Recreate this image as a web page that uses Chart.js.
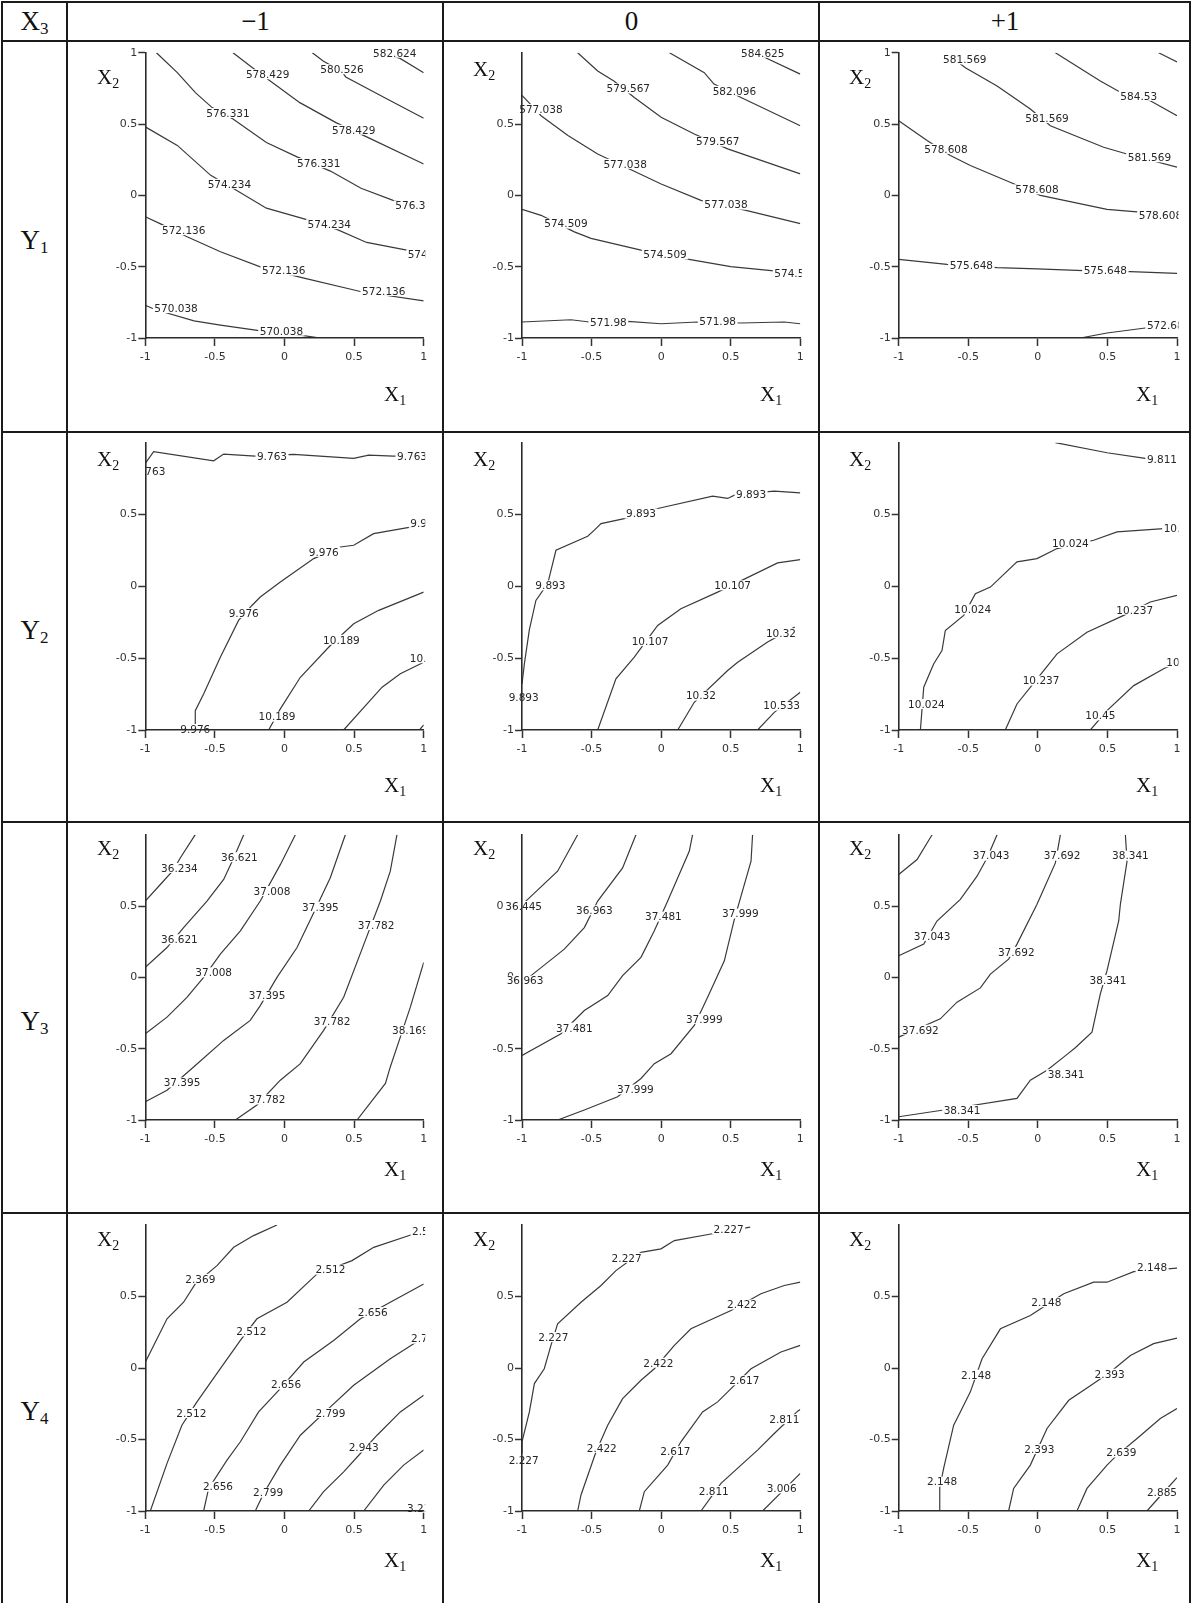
<!DOCTYPE html>
<html><head><meta charset="utf-8">
<script src="https://cdn.jsdelivr.net/npm/chart.js@4.4.0/dist/chart.umd.min.js"></script>
<style>
body{margin:0;background:#fff;}
#page{position:relative;width:1191px;height:1603px;overflow:hidden;background:#fff;font-family:"Liberation Serif","Times New Roman",serif;color:#111;}
.hl{position:absolute;background:#1b1b1b;height:2px;}
.vl{position:absolute;background:#1b1b1b;width:2px;}
.hdr{position:absolute;display:flex;align-items:center;justify-content:center;font-size:27px;line-height:27px;}
.hdr .s{font-size:17px;position:relative;top:7px;}
.ax{position:absolute;font-size:21px;line-height:21px;white-space:nowrap;}
.ax .s{font-size:14px;position:relative;top:4px;}
canvas{position:absolute;}
</style></head><body><div id="page"></div>
<script>
// ---------- header / axis texts ----------
const x3Levels = ['\u22121', '0', '+1'];
const responseIdx = ['1', '2', '3', '4'];
const axisTicks = [-1, -0.5, 0, 0.5, 1];

// ---------- Y1 ----------
const y1a_lines = [
  [[0.70,1.0],[0.83,0.96],[1.0,0.86]],
  [[0.20,1.0],[0.28,0.94],[0.41,0.87],[0.44,0.83],[0.71,0.69],[1.0,0.54]],
  [[-0.37,1.0],[-0.23,0.895],[-0.10,0.80],[0.11,0.65],[0.37,0.51],[0.59,0.41],[1.0,0.22]],
  [[-0.92,1.0],[-0.77,0.86],[-0.64,0.72],[-0.52,0.615],[-0.37,0.535],[-0.13,0.37],[0.09,0.27],[0.33,0.17],[0.55,0.05],[0.78,-0.035],[1.0,-0.08]],
  [[-1.0,0.48],[-0.77,0.35],[-0.53,0.14],[-0.37,0.05],[-0.13,-0.09],[0.16,-0.17],[0.38,-0.24],[0.59,-0.33],[0.86,-0.38],[1.0,-0.41]],
  [[-1.0,-0.15],[-0.89,-0.20],[-0.70,-0.29],[-0.46,-0.395],[-0.15,-0.51],[0.14,-0.58],[0.545,-0.674],[1.0,-0.74]],
  [[-1.0,-0.77],[-0.93,-0.80],[-0.65,-0.88],[-0.46,-0.91],[-0.17,-0.95],[0.11,-0.98],[0.26,-1.0]]
];
const y1a_labels = [
  [0.636,1.0,'582.624'],[0.257,0.884,'580.526'],[-0.277,0.849,'578.429'],[0.341,0.46,'578.429'],
  [-0.562,0.577,'576.331'],[0.09,0.226,'576.331'],[0.796,-0.07,'576.331'],
  [-0.552,0.081,'574.234'],[0.166,-0.202,'574.234'],[0.885,-0.414,'574.234'],
  [-0.88,-0.244,'572.136'],[-0.162,-0.528,'572.136'],[0.557,-0.67,'572.136'],
  [-0.935,-0.79,'570.038'],[-0.178,-0.949,'570.038']
];
const y1b_lines = [
  [[0.70,1.0],[0.75,0.965],[1.0,0.85]],
  [[0.06,1.0],[0.31,0.86],[0.38,0.78],[0.574,0.686],[1.0,0.488]],
  [[-0.6,1.0],[-0.456,0.872],[-0.337,0.80],[-0.193,0.686],[0.0,0.547],[0.238,0.43],[0.478,0.326],[1.0,0.151]],
  [[-1.0,0.70],[-0.94,0.64],[-0.863,0.558],[-0.67,0.42],[-0.456,0.29],[-0.205,0.174],[0.0,0.08],[0.286,-0.035],[0.61,-0.105],[1.0,-0.198]],
  [[-1.0,-0.098],[-0.863,-0.14],[-0.624,-0.256],[-0.504,-0.302],[-0.145,-0.384],[0.19,-0.447],[0.50,-0.50],[0.81,-0.53],[1.0,-0.55]],
  [[-1.0,-0.888],[-0.648,-0.872],[-0.516,-0.888],[-0.24,-0.884],[0.0,-0.9],[0.262,-0.888],[0.574,-0.895],[0.885,-0.888],[1.0,-0.9]]
];
const y1b_labels = [
  [0.574,1.0,'584.625'],[0.37,0.733,'582.096'],[-0.392,0.749,'579.567'],[0.25,0.377,'579.567'],
  [-1.02,0.605,'577.038'],[-0.415,0.221,'577.038'],[0.31,-0.065,'577.038'],
  [-0.84,-0.198,'574.509'],[-0.128,-0.414,'574.509'],[0.813,-0.547,'574.509'],
  [-0.511,-0.888,'571.98'],[0.274,-0.879,'571.98']
];
const y1c_lines = [
  [[0.868,1.0],[1.0,0.935]],
  [[0.126,1.0],[0.449,0.802],[0.58,0.73],[0.808,0.663],[1.0,0.558]],
  [[-0.62,0.97],[-0.521,0.895],[-0.293,0.767],[-0.054,0.605],[0.09,0.488],[0.473,0.337],[0.64,0.29],[1.0,0.198]],
  [[-1.0,0.523],[-0.796,0.384],[-0.629,0.279],[-0.485,0.209],[-0.174,0.081],[0.018,0.0],[0.497,-0.098],[0.713,-0.116],[1.0,-0.15]],
  [[-1.0,-0.449],[-0.653,-0.484],[-0.293,-0.507],[-0.006,-0.516],[0.329,-0.528],[0.665,-0.535],[1.0,-0.547]],
  [[0.305,-1.0],[0.497,-0.965],[0.772,-0.93],[1.0,-0.9]]
];
const y1c_labels = [
  [-0.681,0.953,'581.569'],[-0.09,0.542,'581.569'],[0.646,0.267,'581.569'],[0.593,0.698,'584.53'],
  [-0.816,0.326,'578.608'],[-0.162,0.042,'578.608'],[0.725,-0.14,'578.608'],
  [-0.634,-0.488,'575.648'],[0.329,-0.528,'575.648'],[0.784,-0.907,'572.687']
];

// ---------- Y2 ----------
const y2a_lines = [
  [[-1.0,0.856],[-0.94,0.937],[-0.509,0.874],[-0.437,0.921],[-0.21,0.907],[0.066,0.919],[0.497,0.891],[0.605,0.914],[0.784,0.907],[1.0,0.907]],
  [[1.0,0.426],[0.916,0.414],[0.64,0.367],[0.497,0.286],[0.401,0.274],[0.21,0.193],[-0.03,0.03],[-0.174,-0.074],[-0.234,-0.133],[-0.33,-0.237],[-0.461,-0.493],[-0.581,-0.749],[-0.641,-0.865],[-0.641,-1.0]],
  [[-0.114,-1.0],[-0.03,-0.853],[0.114,-0.633],[0.329,-0.412],[0.497,-0.26],[0.677,-0.167],[1.0,-0.04]],
  [[0.425,-1.0],[0.701,-0.702],[0.832,-0.609],[1.0,-0.528]],
  [[0.97,-1.0],[1.0,-0.965]]
];
const y2a_labels = [
  [-1.0,0.805,'763'],[-0.198,0.907,'9.763'],[0.808,0.907,'9.763'],
  [0.904,0.442,'9.976'],[0.174,0.24,'9.976'],[-0.401,-0.186,'9.976'],[-0.749,-0.993,'9.976'],
  [-0.186,-0.907,'10.189'],[0.277,-0.372,'10.189'],[0.9,-0.5,'10.402']
];
const y2b_lines = [
  [[1.0,0.651],[0.813,0.663],[0.538,0.64],[0.478,0.612],[0.37,0.628],[-0.025,0.542],[-0.265,0.472],[-0.432,0.437],[-0.48,0.391],[-0.528,0.349],[-0.756,0.251],[-0.815,0.019],[-0.9,-0.098],[-0.947,-0.302],[-0.983,-0.54],[-1.0,-0.679]],
  [[-0.456,-1.0],[-0.325,-0.644],[-0.193,-0.493],[-0.025,-0.272],[0.142,-0.156],[0.406,-0.04],[0.837,0.163],[1.0,0.186]],
  [[0.119,-1.0],[0.238,-0.807],[0.478,-0.586],[0.55,-0.528],[0.765,-0.388],[0.96,-0.284]],
  [[0.693,-1.0],[0.813,-0.877],[1.0,-0.737]]
];
const y2b_labels = [
  [0.538,0.64,'9.893'],[-0.253,0.507,'9.893'],[-0.904,0.007,'9.893'],[-1.096,-0.772,'9.893'],
  [-0.212,-0.381,'10.107'],[0.382,0.007,'10.107'],[0.178,-0.76,'10.32'],[0.753,-0.326,'10.32'],[0.734,-0.83,'10.533']
];
const y2c_lines = [
  [[0.126,1.0],[0.497,0.93],[0.772,0.891],[1.0,0.88]],
  [[-0.844,-1.0],[-0.82,-0.702],[-0.749,-0.54],[-0.689,-0.447],[-0.665,-0.307],[-0.533,-0.202],[-0.449,-0.051],[-0.341,-0.005],[-0.15,0.17],[-0.006,0.193],[0.138,0.263],[0.401,0.321],[0.569,0.379],[0.904,0.402],[1.0,0.405]],
  [[-0.234,-1.0],[-0.15,-0.819],[0.042,-0.586],[0.138,-0.47],[0.353,-0.319],[0.617,-0.202],[0.808,-0.109],[1.0,-0.063]],
  [[0.377,-1.0],[0.497,-0.865],[0.689,-0.691],[0.904,-0.574],[1.0,-0.53]]
];
const y2c_labels = [
  [0.784,0.884,'9.811'],[-0.933,-0.819,'10.024'],[-0.6,-0.16,'10.024'],[0.102,0.302,'10.024'],[0.904,0.402,'10.024'],
  [-0.109,-0.656,'10.237'],[0.564,-0.163,'10.237'],[0.341,-0.898,'10.45'],[0.923,-0.528,'10.45']
];

// ---------- Y3 ----------
const y3a_lines = [
  [[-1.0,0.535],[-0.892,0.651],[-0.80,0.75],[-0.749,0.837],[-0.641,1.0]],
  [[-1.0,0.07],[-0.844,0.209],[-0.725,0.349],[-0.557,0.535],[-0.437,0.686],[-0.365,0.837],[-0.293,1.0]],
  [[-1.0,-0.395],[-0.844,-0.279],[-0.701,-0.14],[-0.581,0.0],[-0.461,0.163],[-0.317,0.326],[-0.174,0.535],[-0.03,0.79],[0.078,1.0]],
  [[-1.0,-0.872],[-0.844,-0.791],[-0.653,-0.628],[-0.437,-0.442],[-0.246,-0.302],[-0.174,-0.198],[-0.054,0.0],[0.09,0.209],[0.21,0.453],[0.329,0.698],[0.437,1.0]],
  [[-0.353,-1.0],[-0.198,-0.895],[-0.03,-0.721],[0.114,-0.605],[0.281,-0.372],[0.425,-0.14],[0.593,0.291],[0.689,0.535],[0.76,0.744],[0.808,1.0]],
  [[0.521,-1.0],[0.725,-0.744],[0.76,-0.628],[0.832,-0.419],[0.904,-0.209],[1.0,0.105]]
];
const y3a_labels = [
  [-0.887,0.767,'36.234'],[-0.456,0.842,'36.621'],[-0.887,0.267,'36.621'],
  [-0.222,0.605,'37.008'],[-0.641,0.035,'37.008'],
  [0.126,0.495,'37.395'],[-0.257,-0.128,'37.395'],[-0.868,-0.737,'37.395'],
  [0.526,0.367,'37.782'],[0.21,-0.309,'37.782'],[-0.257,-0.856,'37.782'],[0.772,-0.372,'38.169']
];
const y3b_lines = [
  [[-1.0,0.51],[-0.959,0.547],[-0.744,0.744],[-0.6,1.0]],
  [[-1.0,-0.03],[-0.935,0.012],[-0.696,0.198],[-0.552,0.349],[-0.456,0.535],[-0.277,0.767],[-0.181,1.0]],
  [[-1.0,-0.547],[-0.72,-0.395],[-0.552,-0.233],[-0.384,-0.128],[-0.277,0.012],[-0.145,0.14],[-0.049,0.326],[0.047,0.535],[0.202,0.884],[0.226,1.0]],
  [[-0.744,-1.0],[-0.552,-0.93],[-0.313,-0.837],[-0.145,-0.709],[-0.049,-0.605],[0.071,-0.535],[0.238,-0.337],[0.334,-0.14],[0.454,0.116],[0.526,0.407],[0.646,0.814],[0.657,1.0]]
];
const y3b_labels = [
  [-1.12,0.5,'36.445'],[-1.11,-0.023,'36.963'],[-0.612,0.47,'36.963'],
  [-0.756,-0.353,'37.481'],[-0.116,0.426,'37.481'],
  [-0.317,-0.786,'37.999'],[0.178,-0.291,'37.999'],[0.437,0.447,'37.999']
];
const y3c_lines = [
  [[-1.0,0.721],[-0.868,0.826],[-0.76,1.0]],
  [[-1.0,0.151],[-0.82,0.233],[-0.725,0.395],[-0.557,0.547],[-0.437,0.709],[-0.365,0.837],[-0.293,1.0]],
  [[-1.0,-0.419],[-0.701,-0.291],[-0.581,-0.174],[-0.413,-0.074],[-0.341,0.023],[-0.21,0.128],[-0.15,0.233],[-0.006,0.512],[0.126,0.802],[0.162,1.0]],
  [[-1.0,-0.977],[-0.677,-0.93],[-0.15,-0.849],[-0.054,-0.721],[0.066,-0.651],[0.21,-0.54],[0.269,-0.493],[0.389,-0.384],[0.449,-0.116],[0.497,0.047],[0.581,0.395],[0.593,0.512],[0.641,0.814],[0.629,1.0]]
];
const y3c_labels = [
  [-0.892,0.291,'37.043'],[-0.468,0.853,'37.043'],
  [-0.976,-0.367,'37.692'],[-0.287,0.179,'37.692'],[0.042,0.853,'37.692'],
  [-0.677,-0.93,'38.341'],[0.071,-0.679,'38.341'],[0.372,-0.019,'38.341'],[0.533,0.853,'38.341']
];

// ---------- Y4 ----------
const y4a_lines = [
  [[-1.0,0.04],[-0.844,0.344],[-0.725,0.46],[-0.641,0.588],[-0.485,0.716],[-0.365,0.844],[-0.222,0.926],[-0.054,1.0]],
  [[-0.964,-1.0],[-0.844,-0.667],[-0.737,-0.4],[-0.629,-0.237],[-0.461,-0.005],[-0.317,0.193],[-0.198,0.344],[0.018,0.46],[0.234,0.658],[0.485,0.751],[0.641,0.844],[0.928,0.937],[1.0,0.96]],
  [[-0.581,-1.0],[-0.545,-0.842],[-0.413,-0.644],[-0.317,-0.516],[-0.186,-0.307],[-0.03,-0.144],[0.138,0.042],[0.353,0.193],[0.545,0.344],[0.76,0.46],[1.0,0.588]],
  [[-0.21,-1.0],[-0.15,-0.877],[-0.03,-0.679],[0.114,-0.47],[0.305,-0.295],[0.497,-0.121],[0.76,0.065],[0.928,0.17],[1.0,0.21]],
  [[0.174,-1.0],[0.281,-0.865],[0.425,-0.726],[0.545,-0.598],[0.665,-0.47],[0.832,-0.307],[1.0,-0.191]],
  [[0.569,-1.0],[0.713,-0.819],[0.856,-0.679],[1.0,-0.574]],
  [[0.95,-1.0],[1.0,-0.96]]
];
const y4a_labels = [
  [-0.713,0.623,'2.369'],[0.222,0.688,'2.512'],[-0.346,0.256,'2.512'],[-0.777,-0.314,'2.512'],[0.916,0.96,'2.512'],
  [0.526,0.391,'2.656'],[-0.097,-0.116,'2.656'],[-0.586,-0.83,'2.656'],
  [0.909,0.205,'2.799'],[0.222,-0.314,'2.799'],[-0.226,-0.872,'2.799'],
  [0.461,-0.556,'2.943'],[0.88,-0.977,'3.23']
];
const y4b_lines = [
  [[-1.0,-0.6],[-1.0,-0.516],[-0.947,-0.307],[-0.911,-0.109],[-0.84,-0.005],[-0.792,0.158],[-0.744,0.309],[-0.576,0.46],[-0.432,0.577],[-0.325,0.681],[-0.145,0.809],[-0.001,0.833],[0.095,0.891],[0.358,0.937],[0.64,0.985]],
  [[-0.6,-1.0],[-0.576,-0.888],[-0.468,-0.586],[-0.384,-0.4],[-0.277,-0.214],[-0.145,-0.086],[-0.049,-0.005],[0.095,0.158],[0.214,0.274],[0.502,0.402],[0.717,0.519],[0.885,0.577],[1.0,0.6]],
  [[-0.157,-1.0],[-0.121,-0.865],[0.047,-0.679],[0.142,-0.516],[0.298,-0.307],[0.406,-0.237],[0.526,-0.121],[0.646,-0.005],[0.861,0.112],[1.0,0.158]],
  [[0.286,-1.0],[0.43,-0.807],[0.574,-0.679],[0.693,-0.574],[0.813,-0.458],[0.981,-0.302],[1.0,-0.29]],
  [[0.729,-1.0],[0.885,-0.849],[1.0,-0.737]]
];
const y4b_labels = [
  [-0.356,0.77,'2.227'],[0.377,0.972,'2.227'],[-0.883,0.216,'2.227'],[-1.096,-0.644,'2.227'],
  [0.473,0.444,'2.422'],[-0.128,0.037,'2.422'],[-0.535,-0.558,'2.422'],
  [0.49,-0.086,'2.617'],[-0.006,-0.581,'2.617'],[0.777,-0.358,'2.811'],[0.27,-0.86,'2.811'],[0.758,-0.842,'3.006']
];
const y4c_lines = [
  [[-0.705,-1.0],[-0.705,-0.837],[-0.677,-0.702],[-0.605,-0.4],[-0.557,-0.307],[-0.485,-0.167],[-0.401,0.065],[-0.269,0.274],[-0.054,0.367],[0.186,0.519],[0.401,0.6],[0.497,0.6],[0.689,0.674],[1.0,0.698]],
  [[-0.21,-1.0],[-0.174,-0.842],[-0.054,-0.679],[0.066,-0.423],[0.222,-0.226],[0.401,-0.109],[0.521,-0.028],[0.665,0.088],[0.832,0.17],[1.0,0.209]],
  [[0.281,-1.0],[0.353,-0.842],[0.497,-0.679],[0.569,-0.609],[0.713,-0.493],[0.88,-0.353],[1.0,-0.284]],
  [[0.784,-1.0],[0.88,-0.895],[1.0,-0.767]]
];
const y4c_labels = [
  [0.713,0.705,'2.148'],[-0.047,0.46,'2.148'],[-0.552,-0.047,'2.148'],[-0.796,-0.795,'2.148'],
  [0.408,-0.04,'2.393'],[-0.097,-0.567,'2.393'],[0.492,-0.591,'2.639'],[0.784,-0.867,'2.885']
];

const cellLines = [[y1a_lines,y1b_lines,y1c_lines],[y2a_lines,y2b_lines,y2c_lines],[y3a_lines,y3b_lines,y3c_lines],[y4a_lines,y4b_lines,y4c_lines]];
const cellLabels = [[y1a_labels,y1b_labels,y1c_labels],[y2a_labels,y2b_labels,y2c_labels],[y3a_labels,y3b_labels,y3c_labels],[y4a_labels,y4b_labels,y4c_labels]];
const showTopTick = [[true,false,true],[false,false,false],[false,false,false],[false,false,false]];

// ---------- layout (pixels) ----------
const colLines = [67, 443, 819, 1190];
const rowLines = [41, 432, 822, 1213, 1603];
const plotXs = [[145.3,423.7],[522,800.3],[898.7,1177]];
const plotYs = [[52.7,338],[442.7,730],[834.7,1120],[1225,1511]];
const x2Cap = [[30,22,30],[21,21,21],[20,20,20],[20,20,20]];
const x1Cap = [347,347,341,341];

const page = document.getElementById('page');
function add(cls, st, html){ const d=document.createElement('div'); d.className=cls; Object.assign(d.style, st); if(html!==undefined) d.innerHTML=html; page.appendChild(d); return d; }

// table rules
[2,41,432,822,1213].forEach(y=>add('hl',{left:'1px',top:(y-1)+'px',width:'1190px'}));
[2,67,443,819,1190].forEach(x=>add('vl',{left:(x-1)+'px',top:'1px',height:'1602px'}));

// header cells
add('hdr',{left:'3px',top:'3px',width:'63px',height:'37px'},'X<span class="s">3</span>');
x3Levels.forEach((t,c)=>add('hdr',{left:(colLines[c]+2)+'px',top:'3px',width:(colLines[c+1]-colLines[c]-3)+'px',height:'37px'},t));
responseIdx.forEach((t,r)=>add('hdr',{left:'3px',top:(rowLines[r]+2)+'px',width:'63px',height:(rowLines[r+1]-rowLines[r]-3)+'px',paddingTop:'6px',boxSizing:'border-box'},'Y<span class="s">'+t+'</span>'));

function labelPlugin(items){
  return {
    id:'contourLabels',
    afterDatasetsDraw(chart){
      const {ctx, chartArea:a} = chart; const xs=chart.scales.x, ys=chart.scales.y;
      ctx.save();
      ctx.beginPath(); ctx.rect(a.left-70, a.top-10, (a.right+1.5)-(a.left-70), a.bottom-a.top+24); ctx.clip();
      ctx.font = '10.5px "DejaVu Sans"'; ctx.textBaseline='alphabetic'; ctx.textAlign='left';
      for (const [vx,vy,t] of items){
        const px=xs.getPixelForValue(vx), py=ys.getPixelForValue(vy);
        const w=ctx.measureText(t).width;
        ctx.fillStyle='#fff'; ctx.fillRect(px-1.5, py-5, w+3, 10);
        ctx.fillStyle='#262626'; ctx.fillText(t, px, py+3.8);
      }
      ctx.restore();
    }
  };
}

for (let r=0;r<4;r++){
  for (let c=0;c<3;c++){
    const left=colLines[c]+1, top=rowLines[r]+1;
    const W=colLines[c+1]-colLines[c]-2, H=rowLines[r+1]-rowLines[r]-2;
    const L=plotXs[c][0]-left, R=(left+W)-plotXs[c][1];
    const T=plotYs[r][0]-top, B=(top+H)-plotYs[r][1];
    const cv=document.createElement('canvas'); cv.width=W; cv.height=H;
    cv.style.left=left+'px'; cv.style.top=top+'px'; cv.style.width=W+'px'; cv.style.height=H+'px';
    page.appendChild(cv);
    const showTop = showTopTick[r][c];
    const tickFont = {family:'DejaVu Sans', size:11};
    new Chart(cv, {
      type:'scatter',
      data:{ datasets: cellLines[r][c].map(pts=>({
        data: pts.map(p=>({x:p[0], y:p[1]})), showLine:true, borderColor:'#3a3a3a', borderWidth:1.2,
        pointRadius:0, pointHoverRadius:0, tension:0, fill:false }))},
      options:{
        responsive:false, maintainAspectRatio:false, animation:false, events:[],
        layout:{padding:{left:0, top:T, right:R, bottom:0}},
        plugins:{legend:{display:false}, tooltip:{enabled:false}},
        scales:{
          x:{ type:'linear', min:axisTicks[0], max:axisTicks[axisTicks.length-1],
              ticks:{stepSize:0.5, color:'#333', font:tickFont, padding:5, maxRotation:0, autoSkip:false,
                     callback:(v)=>String(v)},
              grid:{drawOnChartArea:false, tickLength:8, tickColor:'#333', tickWidth:1.5},
              border:{color:'#2b2b2b', width:1.6, z:1},
              afterFit(s){ s.height=B; } },
          y:{ type:'linear', min:axisTicks[0], max:axisTicks[axisTicks.length-1],
              ticks:{stepSize:0.5, color:'#333', font:tickFont, padding:1, autoSkip:false,
                     callback:(v)=>(!showTop && v===1)?'':String(v)},
              grid:{drawOnChartArea:false, tickLength:7, tickWidth:1.5,
                    tickColor:(ctx)=>(!showTop && ctx.tick && ctx.tick.value===1)?'rgba(0,0,0,0)':'#333'},
              border:{color:'#2b2b2b', width:1.6, z:1},
              afterFit(s){ s.width=L; } }
        }
      },
      plugins:[labelPlugin(cellLabels[r][c])]
    });
    add('ax',{left:(colLines[c]+30)+'px',top:(rowLines[r]+x2Cap[r][c]-3.7)+'px'},'X<span class="s">2</span>');
    add('ax',{left:(colLines[c]+317)+'px',top:(rowLines[r]+x1Cap[r]-3.7)+'px'},'X<span class="s">1</span>');
  }
}
</script></body></html>
